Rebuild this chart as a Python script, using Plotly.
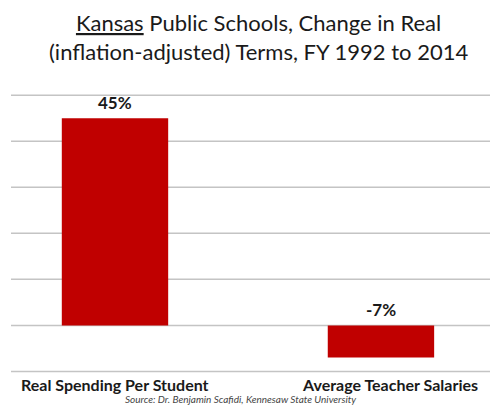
import plotly.graph_objects as go

categories = ["Real Spending Per Student", "Average Teacher Salaries"]
values = [45, -7]
value_labels = ["45%", "-7%"]
y_ticks = [-10, 0, 10, 20, 30, 40, 50]

W, H = 495, 406
FONT = "Lato"
TOP, BOT = 93, 376  # plot area pixel rows
PLOT_H = BOT - TOP
LEFT, RIGHT = 11, 490
PLOT_W = RIGHT - LEFT
Y_RANGE = [-11, 50.5]
X_RANGE = [-0.391, 1.41]
GRID = "#c4c4c4"


def py(pix):
    return (BOT - pix) / PLOT_H


def px(pix):
    return (pix - LEFT) / PLOT_W


fig = go.Figure()
fig.add_trace(go.Bar(
    x=[0, 1], y=values, width=0.4,
    marker=dict(color="#c00000", line=dict(width=0)),
    hoverinfo="skip",
))

# gridlines at the tick values (shapes, drawn above the plot background)
shapes = []
for t in y_ticks:
    shapes.append(dict(type="line", xref="paper", yref="y", x0=0, x1=1,
                       y0=t, y1=t, line=dict(color=GRID, width=1.5),
                       layer="below" if t >= 0 else "above"))

annotations = []
for i, (v, lab) in enumerate(zip(values, value_labels)):
    annotations.append(dict(
        x=i, y=max(v, 0), xref="x", yref="y", text=f"<b>{lab}</b>",
        showarrow=False, yanchor="bottom", yshift=3,
        font=dict(family=FONT, size=17, color="#1a1a1a"),
    ))
xshifts = [0, 9]
for i, c in enumerate(categories):
    annotations.append(dict(
        x=i, y=py(384), xref="x", yref="paper", text=f"<b>{c}</b>",
        showarrow=False, yanchor="middle", xshift=xshifts[i],
        font=dict(family=FONT, size=16, color="#1a1a1a"),
    ))
annotations.append(dict(
    x=px(240), y=py(399), xref="paper", yref="paper",
    text="<i>Source: Dr. Benjamin Scafidi, Kennesaw State University</i>",
    showarrow=False, xanchor="center", yanchor="middle",
    font=dict(family=FONT, size=10, color="#444444"),
))
annotations.append(dict(
    x=px(258), y=py(37), xref="paper", yref="paper",
    text="<u>Kansas</u> Public Schools, Change in Real<br>(inflation-adjusted) Terms, FY 1992 to 2014",
    showarrow=False, xanchor="center", yanchor="middle", align="center",
    font=dict(family=FONT, size=22, color="#1a1a1a"),
))

fig.update_layout(
    width=W, height=H,
    margin=dict(l=LEFT, r=W - RIGHT, t=TOP, b=H - BOT),
    paper_bgcolor="white", plot_bgcolor="white",
    showlegend=False,
    annotations=annotations,
    shapes=shapes,
    xaxis=dict(range=X_RANGE, showticklabels=False, showgrid=False,
               zeroline=False, showline=False, ticks=""),
    yaxis=dict(range=Y_RANGE, tickvals=y_ticks, showticklabels=False,
               showgrid=False, zeroline=False, showline=False, ticks=""),
)

fig.write_html("out.html")
